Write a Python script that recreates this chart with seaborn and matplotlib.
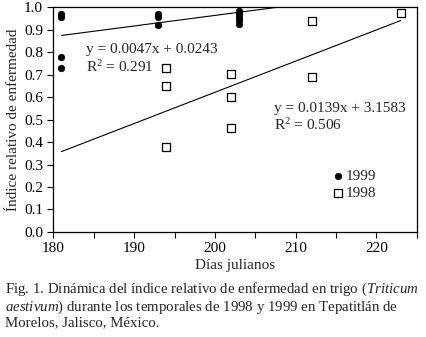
import numpy as np
import pandas as pd
import seaborn as sns
import matplotlib.pyplot as plt
from matplotlib.ticker import MultipleLocator, FormatStrFormatter

# Datos
dias_1999 = [181, 181, 181, 181, 193, 193, 193, 203, 203, 203, 203, 203]
indice_1999 = [0.970, 0.957, 0.777, 0.732, 0.969, 0.957, 0.923,
               0.983, 0.969, 0.957, 0.946, 0.928]

dias_1998 = [194, 194, 194, 202, 202, 202, 212, 212, 223]
indice_1998 = [0.730, 0.652, 0.377, 0.703, 0.601, 0.461, 0.939, 0.688, 0.975]

# Lineas de tendencia (pendiente, ordenada, rango de x)
pendiente_1999, ordenada_1999 = 0.0047, 0.0243
rango_1999 = [181, 208]
pendiente_1998, ordenada_1998 = 0.0139, -2.1583
rango_1998 = [181, 223]

eq_1999 = "y = 0.0047x + 0.0243\nR$^2$ = 0.291"
eq_1998 = "y = 0.0139x + 3.1583\nR$^2$ = 0.506"

df99 = pd.DataFrame({"dia": dias_1999, "indice": indice_1999})
df98 = pd.DataFrame({"dia": dias_1998, "indice": indice_1998})

sns.set_style("ticks")
plt.rcParams["font.family"] = ["Liberation Serif", "DejaVu Serif"]
plt.rcParams["mathtext.fontset"] = "custom"
plt.rcParams["mathtext.rm"] = "Liberation Serif"
plt.rcParams["mathtext.it"] = "Liberation Serif:italic"

fig = plt.figure(figsize=(4.27, 3.37), dpi=100)
ax = fig.add_axes([0.125, 0.312, 0.851, 0.666])

# tendencias
for m, b, rng in [(pendiente_1999, ordenada_1999, rango_1999),
                  (pendiente_1998, ordenada_1998, rango_1998)]:
    xs = np.array(rng, dtype=float)
    sns.lineplot(x=xs, y=m * xs + b, ax=ax, color="black", linewidth=0.8)

sns.scatterplot(data=df99, x="dia", y="indice", ax=ax, marker="o", s=22,
                color="black", edgecolor="black", linewidth=0.5, label="1999",
                zorder=3)
sns.scatterplot(data=df98, x="dia", y="indice", ax=ax, marker="s", s=34,
                facecolor="white", edgecolor="black", linewidth=0.9,
                label="1998", zorder=3)

ax.set_xlim(180, 225)
ax.set_ylim(0, 1.0)
ax.xaxis.set_major_locator(MultipleLocator(10))
ax.xaxis.set_minor_locator(MultipleLocator(5))
ax.yaxis.set_major_locator(MultipleLocator(0.1))
ax.yaxis.set_major_formatter(FormatStrFormatter("%.1f"))
ax.tick_params(axis="both", which="both", direction="out", length=4,
               width=0.8, labelsize=11, color="black", labelcolor="black")
for sp in ax.spines.values():
    sp.set_visible(True)
    sp.set_color("black")
    sp.set_linewidth(0.9)

ax.set_xlabel("Días julianos", fontsize=11, labelpad=3)
ax.set_ylabel("Índice relativo de enfermedad", fontsize=11, labelpad=3)

ax.text(184.0, 0.77, eq_1999, fontsize=11, va="center", ha="left",
        linespacing=1.2)
ax.text(207.3, 0.51, eq_1998, fontsize=11, va="center", ha="left",
        linespacing=1.2)

ax.legend(loc="center left", bbox_to_anchor=(0.75, 0.21), frameon=False,
          fontsize=11, handlelength=0.6, handletextpad=0.2,
          labelspacing=0.25, borderpad=0)

caption = ("Fig. 1. Dinámica del índice relativo de enfermedad en trigo ($\\mathit{Triticum}$\n"
           "$\\mathit{aestivum}$) durante los temporales de 1998 y 1999 en Tepatitlán de\n"
           "Morelos, Jalisco, México.")
fig.text(0.012, 1 - 281 / 337, caption, fontsize=10.75, va="top", ha="left",
         linespacing=1.0)

fig.savefig("out.png", dpi=100)
